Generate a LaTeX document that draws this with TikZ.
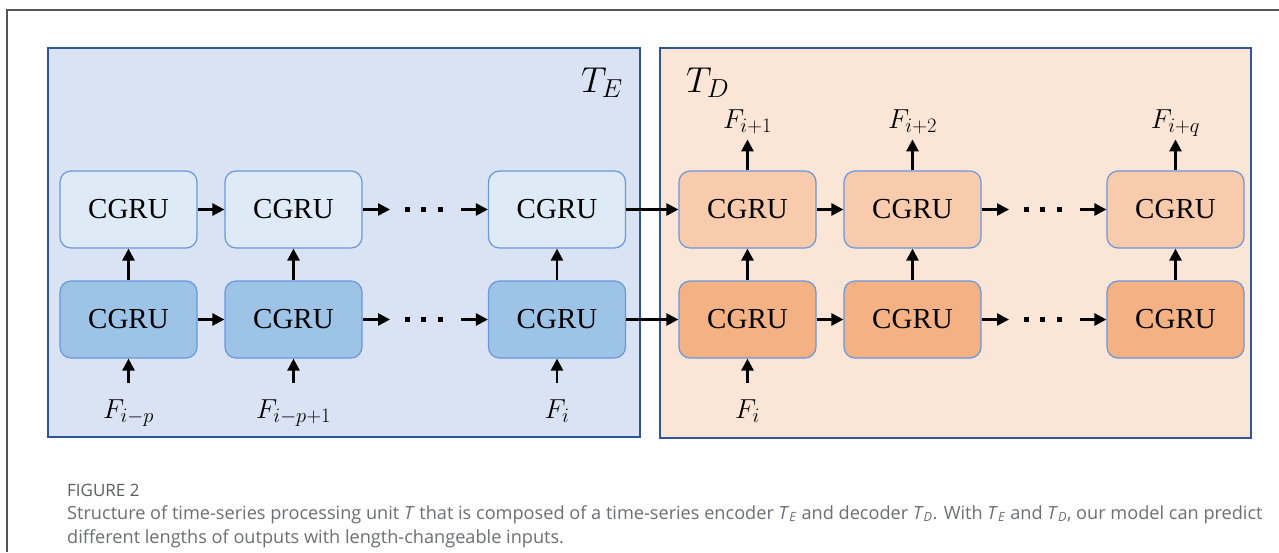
\RequirePackage{fix-cm}
\documentclass[tikz,border=0pt]{standalone}
\usepackage{fontspec}
\setmainfont{Liberation Serif}
\newfontfamily\capfont{Open Sans}
\usetikzlibrary{arrows.meta}
\DeclareMathSizes{27.5}{27.5}{20.5}{15}
\DeclareMathSizes{36}{36}{26}{19}
\definecolor{encbg}{HTML}{DAE3F3}
\definecolor{decbg}{HTML}{FBE5D6}
\definecolor{panelline}{HTML}{2F5597}
\definecolor{boxline}{HTML}{6A96DC}
\definecolor{enctop}{HTML}{DEEBF7}
\definecolor{encbot}{HTML}{9DC3E6}
\definecolor{dectop}{HTML}{F8CBAD}
\definecolor{decbot}{HTML}{F4B183}
\definecolor{capgray}{HTML}{6D6E71}
\definecolor{framegray}{HTML}{555555}
\newcommand{\capit}[2]{\textit{#1}\textsubscript{\textit{#2}}}
\tikzset{
  cell/.style={draw=boxline, line width=1.2pt, rounded corners=11pt,
    minimum width=137pt, minimum height=77pt, inner sep=0pt,
    font=\fontsize{29}{34}\selectfont},
  flow/.style={-{Triangle[length=12pt,width=12pt]}, line width=2.6pt, black},
  panel/.style={draw=panelline, line width=2.2pt},
  flab/.style={inner sep=0pt, font=\fontsize{27.5}{32}\selectfont},
  tlab/.style={inner sep=0pt, font=\fontsize{36}{40}\selectfont},
  dotsq/.style={fill=black, minimum size=5pt, inner sep=0pt},
  capt/.style={inner sep=0pt, anchor=base west, text=capgray, font=\capfont\fontsize{18.15}{21}\selectfont}
}
\begin{document}
\begin{tikzpicture}[x=1pt,y=-1pt]
\useasboundingbox (0,0) rectangle (1279,552);
\fill[white] (0,0) rectangle (1279,552);
% outer frame
\coordinate (fa) at (7,552);
\coordinate (fb) at (7,10);
\coordinate (fc) at (1279,10);
\draw[framegray, line width=1.2pt] (fa) -- (fb) -- (fc);
% panels
\node[panel, fill=encbg, minimum width=592pt, minimum height=389pt, anchor=north west, inner sep=0pt] (enc) at (47,47) {};
\node[panel, fill=decbg, minimum width=591pt, minimum height=390pt, anchor=north west, inner sep=0pt] (dec) at (659,47) {};
\node[tlab, anchor=base west] (te) at (581,92) {$T_E$};
\node[tlab, anchor=base west] (td) at (686,92) {$T_D$};
% encoder cells
\node[cell, fill=enctop] (e1t) at (128.5,209.5) {CGRU};
\node[cell, fill=enctop] (e2t) at (293.5,209.5) {CGRU};
\node[cell, fill=enctop] (e3t) at (557,209.5) {CGRU};
\node[cell, fill=encbot] (e1b) at (128.5,319.5) {CGRU};
\node[cell, fill=encbot] (e2b) at (293.5,319.5) {CGRU};
\node[cell, fill=encbot] (e3b) at (557,319.5) {CGRU};
% decoder cells
\node[cell, fill=dectop] (d1t) at (747.5,209.5) {CGRU};
\node[cell, fill=dectop] (d2t) at (912.5,209.5) {CGRU};
\node[cell, fill=dectop] (d3t) at (1175.5,209.5) {CGRU};
\node[cell, fill=decbot] (d1b) at (747.5,319.5) {CGRU};
\node[cell, fill=decbot] (d2b) at (912.5,319.5) {CGRU};
\node[cell, fill=decbot] (d3b) at (1175.5,319.5) {CGRU};
% dots
\foreach \r/\y in {t/209.5, b/319.5} {
  \node[dotsq] (ed1\r) at (407,\y) {};
  \node[dotsq] (ed2\r) at (423.5,\y) {};
  \node[dotsq] (ed3\r) at (440,\y) {};
  \node[dotsq] (dd1\r) at (1026,\y) {};
  \node[dotsq] (dd2\r) at (1042.5,\y) {};
  \node[dotsq] (dd3\r) at (1059,\y) {};
  \coordinate (ea\r) at (390,\y);
  \coordinate (eb\r) at (461,\y);
  \coordinate (da\r) at (1009,\y);
  \coordinate (db\r) at (1080,\y);
}
% horizontal arrows
\foreach \r in {t,b} {
  \draw[flow] (e1\r) -- (e2\r);
  \draw[flow] (e2\r.east) -- (ea\r);
  \draw[flow] (eb\r) -- (e3\r.west);
  \draw[flow] (e3\r) -- (d1\r);
  \draw[flow] (d1\r) -- (d2\r);
  \draw[flow] (d2\r.east) -- (da\r);
  \draw[flow] (db\r) -- (d3\r.west);
}
% vertical arrows between rows
\foreach \c in {e1,e2,e3,d1,d2,d3} {
  \draw[flow] (\c b) -- (\c t);
}
% inputs
\node[flab, anchor=base] (in1) at (128.5,418) {$F_{i-p}$};
\node[flab, anchor=base] (in2) at (293.5,418) {$F_{i-p+1}$};
\node[flab, anchor=base] (in3) at (557,418) {$F_i$};
\node[flab, anchor=base] (in4) at (747.5,418) {$F_i$};
\foreach \c/\i in {e1/1,e2/2,e3/3,d1/4} {
  \coordinate (ia\i) at ([yshift=-24pt]\c b.south);
  \draw[flow] (ia\i) -- (\c b.south);
}
% outputs
\node[flab, anchor=base] (o1) at (747.5,128) {$F_{i+1}$};
\node[flab, anchor=base] (o2) at (912.5,128) {$F_{i+2}$};
\node[flab, anchor=base] (o3) at (1175.5,128) {$F_{i+q}$};
\foreach \c/\i in {d1/1,d2/2,d3/3} {
  \coordinate (oa\i) at ([yshift=31pt]\c t.north);
  \draw[flow] (\c t.north) -- (oa\i);
}
% caption
\node[capt, text=capgray!85!black, font=\capfont\fontsize{17}{20}\selectfont] (fig) at (67,496) {FIGURE 2};
\node[capt] (cap1) at (67,519) {Structure of time-series processing unit \textit{T} that is composed of a time-series encoder \capit{T}{E} and decoder \capit{T}{D}. With \capit{T}{E} and \capit{T}{D}, our model can predict};
\node[capt] (cap2) at (67,543) {different lengths of outputs with length-changeable inputs.};
\end{tikzpicture}
\end{document}
